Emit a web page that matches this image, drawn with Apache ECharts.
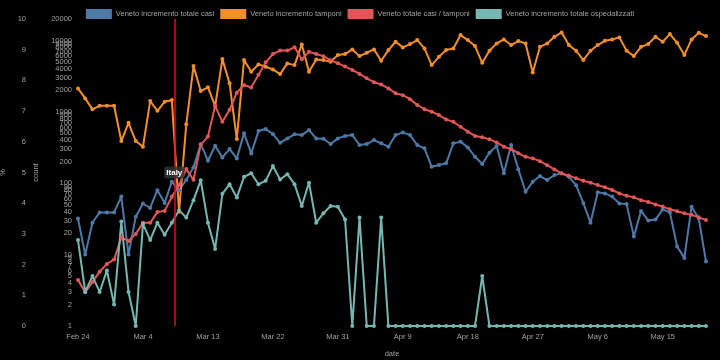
<!DOCTYPE html>
<html><head><meta charset="utf-8">
<script src="https://cdn.jsdelivr.net/npm/echarts@6/dist/echarts.min.js"></script>
<style>html,body{margin:0;padding:0;background:#000}#c{width:720px;height:360px}</style>
</head><body><div id="c"></div><script>
const dates = ['Feb 24','Feb 25','Feb 26','Feb 27','Feb 28','Feb 29','Mar 1','Mar 2','Mar 3','Mar 4','Mar 5','Mar 6','Mar 7','Mar 8','Mar 9','Mar 10','Mar 11','Mar 12','Mar 13','Mar 14','Mar 15','Mar 16','Mar 17','Mar 18','Mar 19','Mar 20','Mar 21','Mar 22','Mar 23','Mar 24','Mar 25','Mar 26','Mar 27','Mar 28','Mar 29','Mar 30','Mar 31','Apr 1','Apr 2','Apr 3','Apr 4','Apr 5','Apr 6','Apr 7','Apr 8','Apr 9','Apr 10','Apr 11','Apr 12','Apr 13','Apr 14','Apr 15','Apr 16','Apr 17','Apr 18','Apr 19','Apr 20','Apr 21','Apr 22','Apr 23','Apr 24','Apr 25','Apr 26','Apr 27','Apr 28','Apr 29','Apr 30','May 1','May 2','May 3','May 4','May 5','May 6','May 7','May 8','May 9','May 10','May 11','May 12','May 13','May 14','May 15','May 16','May 17','May 18','May 19','May 20','May 21'];
const casiIncremento = [32,10,28,39,39,39,65,10,34,52,45,80,53,105,80,111,167,355,207,335,230,301,223,500,262,538,574,489,369,425,484,473,556,425,420,354,425,458,473,343,354,403,362,325,473,516,473,343,308,170,180,190,362,381,318,235,186,267,332,138,343,157,76,105,126,111,130,138,123,94,53,28,75,72,65,52,51,18,41,30,31,43,39,13,9,47,32,8];
const tamponiIncremento = [2133,1545,1084,1217,1217,1217,390,703,390,325,1416,1036,1385,1463,40,668,4377,1955,2204,1205,5486,2508,416,5310,3646,4625,4283,3938,3381,4775,4520,8815,3646,5433,5310,5035,6240,6450,7500,6040,6730,7500,5200,7340,9600,8000,8910,10140,7740,4520,5910,7340,7740,11900,10140,8350,4870,7180,9100,10350,8630,9810,9100,3570,8160,9100,11270,12970,8630,7180,5310,7180,8630,9900,10350,11050,7180,6040,8160,8910,11270,9600,12300,9300,6240,10350,12820,11530];
const casiTamponiPct = [1.50,1.10,1.43,1.77,2.02,2.17,2.88,2.77,3.00,3.36,3.36,3.71,3.75,4.21,4.59,5.11,4.76,5.90,6.17,7.17,6.65,7.04,7.60,7.85,7.77,8.18,8.59,8.86,8.97,8.97,9.08,8.69,8.93,8.86,8.79,8.66,8.56,8.45,8.34,8.21,8.07,7.94,7.87,7.74,7.58,7.52,7.39,7.20,7.06,6.98,6.87,6.73,6.65,6.49,6.33,6.19,6.15,6.08,5.98,5.84,5.76,5.63,5.51,5.46,5.37,5.24,5.10,4.97,4.90,4.81,4.73,4.67,4.59,4.52,4.43,4.32,4.24,4.19,4.10,4.04,3.96,3.89,3.80,3.74,3.67,3.62,3.54,3.45];
const ospedalizzatiIncremento = [16,3,5,3,6,2,29,3,1,27,16,28,19,28,42,33,58,110,28,12,71,97,63,123,138,97,108,174,113,134,97,48,102,28,38,48,47,31,1,33,1,1,33,1,1,1,1,1,1,1,1,1,1,1,1,1,5,1,1,1,1,1,1,1,1,1,1,1,1,1,1,1,1,1,1,1,1,1,1,1,1,1,1,1,1,1,1,1];
const seriesNames = ['Veneto incremento totale casi','Veneto incremento tamponi','Veneto totale casi / tamponi','Veneto incremento totale ospedalizzati'];
const pctTicks = [0,1,2,3,4,5,6,7,8,9,10];
const countTicks = [1,2,3,4,5,6,7,8,9,10,20,30,40,50,60,70,80,90,100,200,300,400,500,600,700,800,900,1000,2000,3000,4000,5000,6000,7000,8000,9000,10000,20000];
const markerDay = 13.34;
const markerLabel = 'Italy';

const colors = ['#4e79a7','#f28e2b','#e15759','#76b7b2'];
const FONT = 'Liberation Sans, Arial, sans-serif';
const txt = '#a0a0a0';
const toXY = arr => arr.map((v, i) => [i, v]);

const chart = echarts.init(document.getElementById('c'), null, {renderer: 'canvas'});
const lineBase = (name, data, color, yIdx) => ({
  name, type: 'line', data: toXY(data), yAxisIndex: yIdx,
  symbol: 'circle', symbolSize: 4, showSymbol: true,
  lineStyle: {color, width: 2}, itemStyle: {color},
  emphasis: {disabled: true}, animation: false, z: 2
});
const red = lineBase(seriesNames[2], casiTamponiPct, colors[2], 0);
red.markLine = {
  silent: true, symbol: 'none', animation: false,
  lineStyle: {color: '#d41515', width: 1.5, type: 'solid'},
  label: {show: false},
  data: [{xAxis: markerDay}]
};
red.markPoint = {
  silent: true, animation: false, symbol: 'rect', symbolSize: [0, 0],
  label: {show: true, position: 'inside', formatter: markerLabel, color: '#fff', fontWeight: 'bold',
    fontSize: 8, fontFamily: FONT, backgroundColor: 'rgba(50,50,50,0.85)', padding: [2, 2], borderRadius: 2},
  data: [{coord: [markerDay, 5]}]
};

chart.setOption({
  backgroundColor: '#000',
  animation: false,
  textStyle: {fontFamily: FONT},
  legend: {
    top: 4, left: 'center', itemWidth: 26, itemHeight: 10, itemGap: 6,
    icon: 'rect',
    textStyle: {color: txt, fontSize: 7.5, fontFamily: FONT, padding: [0, 0, 0, -1]},
    data: seriesNames
  },
  grid: {left: 78, right: 14, top: 19, bottom: 34, containLabel: false, outerBoundsMode: 'none'},
  xAxis: {
    type: 'value', min: 0, max: dates.length - 1, interval: 9,
    name: 'date', nameLocation: 'middle', nameGap: 24,
    nameTextStyle: {color: txt, fontSize: 7.5},
    axisLine: {show: false}, axisTick: {show: false}, splitLine: {show: false},
    axisLabel: {color: txt, fontSize: 7.5, margin: 7, showMaxLabel: false,
      formatter: v => dates[Math.round(v)] || ''}
  },
  yAxis: [
    {
      type: 'value', min: 0, max: 10, interval: 1, position: 'left', offset: 46,
      name: '%', nameLocation: 'middle', nameGap: 21,
      nameTextStyle: {color: txt, fontSize: 7.5},
      axisLine: {show: false}, axisTick: {show: false}, splitLine: {show: false},
      axisLabel: {color: txt, fontSize: 7.5, margin: 6}
    },
    {
      type: 'log', logBase: 10, min: 1, max: 20000, position: 'left', offset: 0,
      name: 'count', nameLocation: 'middle', nameGap: 33,
      nameTextStyle: {color: txt, fontSize: 7.5},
      axisLine: {show: false}, axisTick: {show: false}, splitLine: {show: false},
      axisLabel: {color: txt, fontSize: 7.5, margin: 6, customValues: countTicks, hideOverlap: false,
        formatter: v => String(Math.round(v))}
    }
  ],
  series: [
    lineBase(seriesNames[0], casiIncremento, colors[0], 1),
    lineBase(seriesNames[1], tamponiIncremento, colors[1], 1),
    red,
    lineBase(seriesNames[3], ospedalizzatiIncremento, colors[3], 1)
  ]
});
</script></body></html>
